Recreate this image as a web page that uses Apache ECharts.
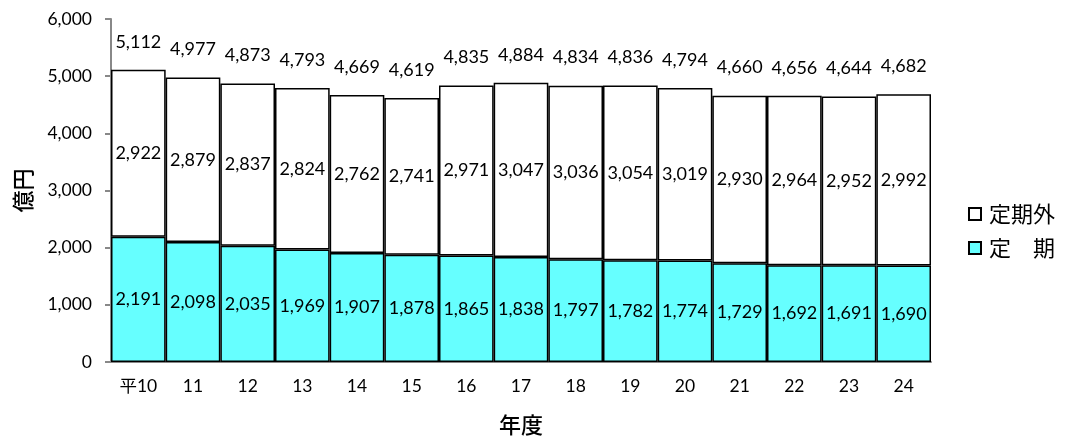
<!DOCTYPE html>
<html><head><meta charset="utf-8">
<script src="https://cdn.jsdelivr.net/npm/echarts@6/dist/echarts.min.js"></script>
<style>html,body{margin:0;padding:0;background:#fff}#c{width:1067px;height:440px}</style>
</head><body><div id="c"></div>
<script>
const categories = ['平10','11','12','13','14','15','16','17','18','19','20','21','22','23','24'];
const teiki = [2191,2098,2035,1969,1907,1878,1865,1838,1797,1782,1774,1729,1692,1691,1690];
const teikigai = [2922,2879,2837,2824,2762,2741,2971,3047,3036,3054,3019,2930,2964,2952,2992];
const totals = [5112,4977,4873,4793,4669,4619,4835,4884,4834,4836,4794,4660,4656,4644,4682];
const yTicks = [0,1000,2000,3000,4000,5000,6000];

const FONT = 'Lato, "Noto Sans CJK JP", sans-serif';
const JP = '"Noto Sans CJK JP", sans-serif';
const fmt = v => Number(v).toLocaleString('en-US');
const chart = echarts.init(document.getElementById('c'));
chart.setOption({
  animation:false,
  textStyle:{fontFamily:FONT},
  grid:{left:111,right:136,top:19,bottom:78,outerBoundsMode:'none',containLabel:false},
  legend:{
    orient:'vertical', right:7, top:198, itemGap:12, itemWidth:12, itemHeight:12,
    icon:'rect', data:['定期外','定　期'],
    textStyle:{fontSize:22,color:'#000',fontFamily:JP,padding:[0,0,0,3]}
  },
  xAxis:{
    type:'category', data:categories,
    name:'年度', nameLocation:'middle', nameGap:52,
    nameTextStyle:{fontSize:22,color:'#000',fontWeight:500,fontFamily:JP},
    axisLine:{lineStyle:{color:'#888',width:2}},
    axisTick:{show:false},
    axisLabel:{color:'#000',fontSize:17.5,margin:16}
  },
  yAxis:{
    type:'value', min:yTicks[0], max:yTicks[yTicks.length-1], interval:1000,
    name:'億円', nameLocation:'middle', nameGap:77, nameRotate:90,
    nameTextStyle:{fontSize:22,color:'#000',fontWeight:500,fontFamily:JP},
    axisLine:{show:true,lineStyle:{color:'#888',width:2}},
    axisTick:{show:true,inside:false,length:6,lineStyle:{color:'#888',width:2}},
    splitLine:{show:false},
    axisLabel:{color:'#000',fontSize:17.5,margin:19,formatter:v=>fmt(v)}
  },
  series:[
    {name:'定　期', type:'bar', stack:'a', data:teiki, barCategoryGap:'0%',
     itemStyle:{color:'#66ffff',borderColor:'#000',borderWidth:1.5},
     label:{show:true,position:'inside',color:'#000',fontSize:18,formatter:p=>fmt(p.value)}},
    {name:'定期外', type:'bar', stack:'a', data:teikigai, barCategoryGap:'0%',
     itemStyle:{color:'#fff',borderColor:'#000',borderWidth:1.5},
     label:{show:true,position:'inside',color:'#000',fontSize:18,formatter:p=>fmt(p.value)}},
    {name:'合計', type:'scatter', data:totals, symbol:'rect', symbolSize:2, silent:true,
     itemStyle:{color:'rgba(0,0,0,0)',opacity:1},
     label:{show:true,position:'top',distance:18,color:'#000',opacity:1,fontSize:18,formatter:p=>fmt(p.value)}}
  ]
});
</script></body></html>
